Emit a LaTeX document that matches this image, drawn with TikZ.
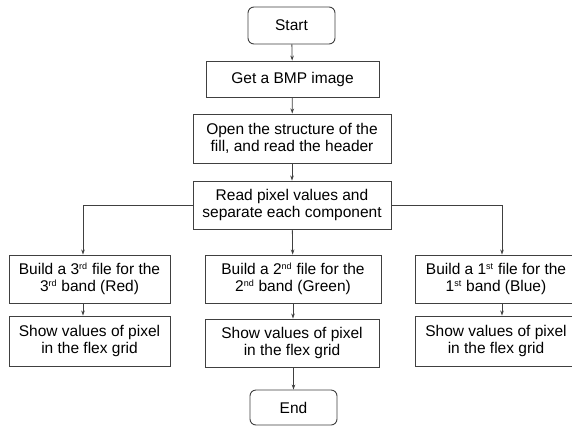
\documentclass[tikz,border=0pt]{standalone}
\usepackage{fontspec}
\setmainfont{Liberation Sans}
\usetikzlibrary{arrows.meta}

% kleine Hochstellung fuer 1st, 2nd, 3rd
\newcommand{\ordsup}[1]{\textsuperscript{\fontsize{9}{9}\selectfont #1}}

\tikzset{
  stepbox/.style={draw=black!75, line width=0.9pt, fill=white, align=center,
    inner sep=2pt, font=\fontsize{15.5}{17}\selectfont},
  termbox/.style={stepbox, rounded corners=6pt},
  flow/.style={draw=black!75, line width=0.8pt, ->}
}

\begin{document}
\begin{tikzpicture}[x=1pt, y=-1pt, >={Stealth[length=5pt,width=3.5pt]}]

        \useasboundingbox[fill=white] (0,0) rectangle (572,426);

        % Hauptstrang oben
        \node[termbox, minimum width=87pt, minimum height=37pt] (start) at (291.5,25.5) {Start};
        \node[stepbox, minimum width=173pt, minimum height=36pt] (bmp) at (292.5,79) {Get a BMP image};
        \node[stepbox, minimum width=198pt, minimum height=49pt] (open) at (292,138.5)
            {Open the structure of the\\fill, and read the header};
        \node[stepbox, minimum width=198pt, minimum height=48pt] (read) at (292,205)
            {Read pixel values and\\separate each component};

        % die drei Baender
        \node[stepbox, minimum width=161pt, minimum height=48pt] (third) at (89.5,279)
            {Build a 3\ordsup{rd} file for the\\3\ordsup{rd} band (Red)};
        \node[stepbox, minimum width=176pt, minimum height=48pt] (second) at (293,279)
            {Build a 2\ordsup{nd} file for the\\2\ordsup{nd} band (Green)};
        \node[stepbox, minimum width=162pt, minimum height=48pt] (first) at (496,279)
            {Build a 1\ordsup{st} file for the\\1\ordsup{st} band (Blue)};

        \node[stepbox, minimum width=161pt, minimum height=50pt] (showl) at (89.5,341)
            {Show values of pixel\\in the flex grid};
        \node[stepbox, minimum width=174pt, minimum height=48pt] (showm) at (292,343)
            {Show values of pixel\\in the flex grid};
        \node[stepbox, minimum width=162pt, minimum height=50pt] (showr) at (496,341)
            {Show values of pixel\\in the flex grid};

        \node[termbox, minimum width=87pt, minimum height=35pt] (endn) at (293.5,407.5) {End};

        % Pfeile
        \draw[flow] (start) -- (bmp);
        \draw[flow] (bmp) -- (open);
        \draw[flow] (open) -- (read);
        \draw[flow] (read.west |- 0,205) -| ([xshift=-6.5pt]third.north);
        \draw[flow] (read) -- (second);
        \draw[flow] (read.east |- 0,205) -| ([xshift=6pt]first.north);

        \draw[flow] ([xshift=-6.5pt]third.south) -- ([xshift=-6.5pt]showl.north);
        \draw[flow] (second) -- (second |- showm.north);
        \draw[flow] ([xshift=6pt]first.south) -- ([xshift=6pt]showr.north);
        \draw[flow] (showm.south -| endn) -- (endn);

    \end{tikzpicture}
\end{document}
